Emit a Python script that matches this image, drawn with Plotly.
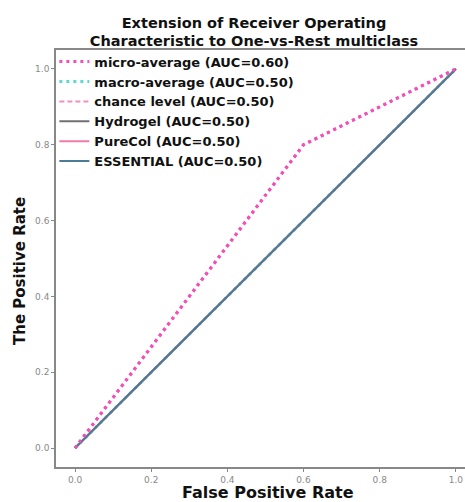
import plotly.graph_objects as go

# Data
micro_fpr = [0.0, 0.6, 1.0]
micro_tpr = [0.0, 0.8, 1.0]
diag_fpr = [0.0, 1.0]
diag_tpr = [0.0, 1.0]

series = [
    ("micro-average (AUC=0.60)", micro_fpr, micro_tpr, "#f44fb8", "3px,4px", 3),
    ("macro-average (AUC=0.50)", diag_fpr, diag_tpr, "#5ed8d0", "3px,4px", 3),
    ("chance level (AUC=0.50)", diag_fpr, diag_tpr, "#ef8fbd", "5px,3px", 2),
    ("Hydrogel (AUC=0.50)", diag_fpr, diag_tpr, "#707070", "solid", 2),
    ("PureCol (AUC=0.50)", diag_fpr, diag_tpr, "#f07aa8", "solid", 2),
    ("ESSENTIAL (AUC=0.50)", diag_fpr, diag_tpr, "#4a7d95", "solid", 2),
]

tick_vals = [0.0, 0.2, 0.4, 0.6, 0.8, 1.0]
tick_text = ["0.0", "0.2", "0.4", "0.6", "0.8", "1.0"]

x_title = "False Positive Rate"
y_title = "The Positive Rate"
chart_title = "Extension of Receiver Operating<br>Characteristic to One-vs-Rest multiclass"

fig = go.Figure()
for name, x, y, color, dash, w in series:
    fig.add_trace(go.Scatter(x=x, y=y, mode="lines", name=name,
                             line=dict(color=color, dash=dash, width=w)))
# draw micro-average on top as in reference
fig.add_trace(go.Scatter(x=micro_fpr, y=micro_tpr, mode="lines", showlegend=False,
                         line=dict(color=series[0][3], dash="3px,4px", width=3)))

W, H = 465, 502
L, T, B = 56, 50, 35
PW, PH = W - L, H - T - B
fig.update_layout(
    width=W, height=H,
    margin=dict(l=L, r=0, t=T, b=B, autoexpand=False),
    paper_bgcolor="white", plot_bgcolor="white",
    font=dict(family="DejaVu Sans", color="#111"),
    title=dict(text="<b>" + chart_title + "</b>",
               x=254/W, xanchor="center", y=1 - 27.5/H, yanchor="middle",
               font=dict(size=14.5, color="#111")),
    showlegend=True,
    legend=dict(x=-0.004, y=1.008, xanchor="left", yanchor="top",
                bgcolor="rgba(0,0,0,0)", borderwidth=0,
                font=dict(size=13, family="DejaVu Sans", color="#111", weight="bold"),
                tracegroupgap=0, itemwidth=30),
    xaxis=dict(range=[-0.05, 1.024], tickvals=tick_vals, ticktext=tick_text, automargin=False,
               showgrid=False, zeroline=False, showline=True, linecolor="#888", linewidth=1.5,
               mirror=True, ticks="outside", ticklen=3, tickcolor="#888",
               ticklabeloverflow="allow",
               tickfont=dict(size=9, color="#888")),
    yaxis=dict(range=[-0.05, 1.05], tickvals=tick_vals, ticktext=tick_text, automargin=False,
               showgrid=False, zeroline=False, showline=True, linecolor="#888", linewidth=1.5,
               ticks="outside", ticklen=3, tickcolor="#888",
               tickfont=dict(size=9, color="#888")),
    annotations=[
        dict(text="<b>" + x_title + "</b>", xref="paper", yref="paper",
             x=(267.5 - L) / PW, y=-(492 - (T + PH)) / PH, xanchor="center", yanchor="middle",
             showarrow=False, font=dict(size=16, color="#111")),
        dict(text="<b>" + y_title + "</b>", xref="paper", yref="paper", textangle=-90,
             x=(20 - L) / PW, y=((T + PH) - 271) / PH, xanchor="center", yanchor="middle",
             showarrow=False, font=dict(size=15, color="#111")),
    ],
)

fig.write_html("out.html", config={"displayModeBar": False},
               post_script="document.body.style.margin='0';document.body.style.overflow='hidden';")
